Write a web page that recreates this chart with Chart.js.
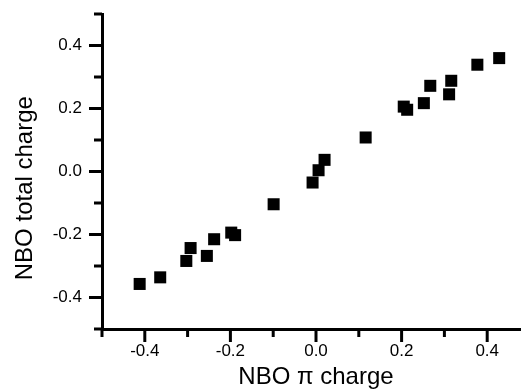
<!DOCTYPE html>
<html>
<head>
<meta charset="utf-8">
<script src="https://cdn.jsdelivr.net/npm/chart.js@4"></script>
<style>
  html, body { margin: 0; padding: 0; background: #fff; overflow: hidden; }
  #wrap { width: 545px; height: 392px; }
</style>
</head>
<body>
<div id="wrap"><canvas id="chart" width="545" height="392"></canvas></div>
<script>
// NBO pi charge (x) vs NBO total charge (y)
const piCharge = [-0.412, -0.364, -0.303, -0.293, -0.255, -0.238, -0.198, -0.189, -0.099,
                  -0.008, 0.006, 0.020, 0.116, 0.205, 0.213, 0.252, 0.267, 0.311, 0.316, 0.377, 0.428];
const totalCharge = [-0.357, -0.336, -0.284, -0.243, -0.268, -0.215, -0.194, -0.202, -0.104,
                     -0.035, 0.004, 0.037, 0.108, 0.206, 0.196, 0.217, 0.272, 0.245, 0.288, 0.339, 0.360];

// axis ticks
const majorTicks = [-0.4, -0.2, 0.0, 0.2, 0.4];
const minorTicks = [-0.5, -0.3, -0.1, 0.1, 0.3, 0.5];

const fontFamily = "'Liberation Sans', Arial, sans-serif";

// draws outward tick marks (long for labelled ticks, short for minor ones)
const tickMarks = {
    id: 'tickMarks',
    afterDraw(chart) {
        const ctx = chart.ctx;
        const area = chart.chartArea;
        const xs = chart.scales.x;
        const ys = chart.scales.y;
        ctx.save();
        ctx.strokeStyle = '#000';
        ctx.lineWidth = 3;
        const mark = (v, len) => {
            const px = xs.getPixelForValue(v);
            ctx.beginPath();
            ctx.moveTo(px, area.bottom);
            ctx.lineTo(px, area.bottom + 3 + len);
            ctx.stroke();
            const py = ys.getPixelForValue(v);
            ctx.beginPath();
            ctx.moveTo(area.left, py);
            ctx.lineTo(area.left - 3 - len, py);
            ctx.stroke();
        };
        majorTicks.forEach(v => mark(v, 10));
        minorTicks.forEach(v => mark(v, 5));
        ctx.restore();
    }
};

const points = piCharge.map((x, i) => ({ x: x, y: totalCharge[i] }));

new Chart(document.getElementById('chart'), {
    type: 'scatter',
    data: {
        datasets: [{
            data: points,
            pointStyle: 'rect',
            pointRadius: 8.5,
            borderWidth: 0,
            backgroundColor: '#000',
            borderColor: '#000'
        }]
    },
    options: {
        responsive: false,
        animation: false,
        layout: { padding: { left: 0, top: 14, right: 15, bottom: 0 } },
        plugins: {
            legend: { display: false },
            tooltip: { enabled: false }
        },
        scales: {
            x: {
                type: 'linear',
                min: -0.5,
                max: 0.5,
                afterBuildTicks: s => { s.ticks = majorTicks.map(v => ({ value: v })); },
                afterFit: s => { s.height = 63; s.paddingLeft = 0; s.paddingRight = 0; },
                grid: { drawOnChartArea: false, drawTicks: false },
                border: { display: true, color: '#000', width: 3 },
                ticks: {
                    color: '#000',
                    padding: 12,
                    font: { family: fontFamily, size: 17 },
                    callback: v => v.toFixed(1)
                },
                title: {
                    display: true,
                    text: 'NBO π charge',
                    color: '#000',
                    padding: { top: 0, bottom: 0 },
                    font: { family: fontFamily, size: 24 }
                }
            },
            y: {
                type: 'linear',
                min: -0.5,
                max: 0.5,
                afterBuildTicks: s => { s.ticks = majorTicks.map(v => ({ value: v })); },
                afterFit: s => { s.width = 102; s.paddingTop = 0; s.paddingBottom = 0; },
                grid: { drawOnChartArea: false, drawTicks: false },
                border: { display: true, color: '#000', width: 3 },
                ticks: {
                    color: '#000',
                    padding: 20,
                    font: { family: fontFamily, size: 17 },
                    callback: v => v.toFixed(1)
                },
                title: {
                    display: true,
                    text: 'NBO total charge     ',
                    color: '#000',
                    padding: { top: 10.6, bottom: 0 },
                    font: { family: fontFamily, size: 24 }
                }
            }
        }
    },
    plugins: [tickMarks]
});
</script>
</body>
</html>
